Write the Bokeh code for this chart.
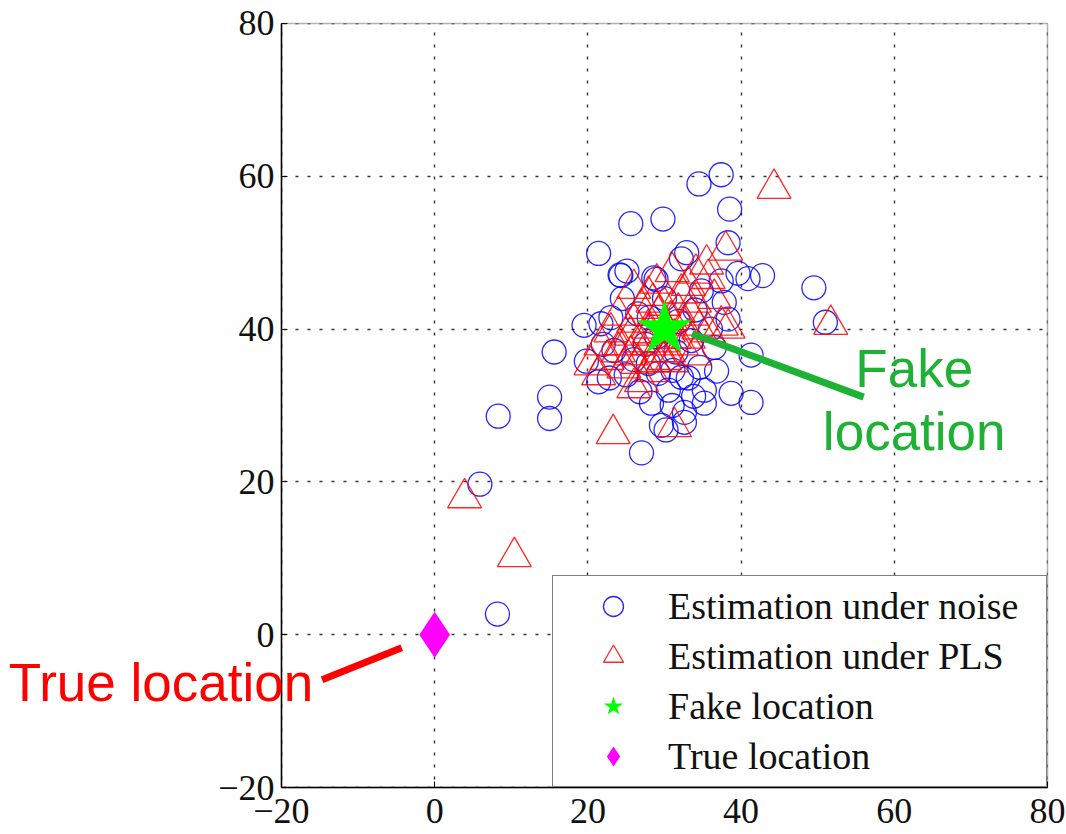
from bokeh.plotting import figure
from bokeh.models import Range1d, FixedTicker, Legend, LegendItem, Label, BoxAnnotation
from bokeh.embed import file_html
from bokeh.resources import INLINE

# ---- data ----
noise_x = [37.4, 34.5, 38.5, 25.6, 29.8, 21.4, 32.9, 38.3, 24.2, 25.1, 39.6, 42.8, 49.5, 51.0,
           19.5, 21.7, 37.8, 28.9, 15.6, 38.3, 15.0, 15.0, 19.8, 21.4, 22.8, 28.3, 29.6, 30.2,
           32.6, 32.6, 35.2, 38.7, 41.3, 27.0, 41.3, 31.1, 33.1, 34.6, 8.3, 5.9, 8.2, 32.2,
           37.4, 40.9, 23.4, 36.5, 35.2, 30.5, 27.9, 29.2, 24.3, 28.6, 32.2, 26.0, 25.0, 27.5,
           31.5, 33.5, 30.0, 26.5, 34.0, 23.0, 29.0, 31.8, 36.0, 22.0, 33.8, 36.8, 26.8, 24.5,
           31.0, 28.0, 34.8]
noise_y = [60.2, 59.0, 55.7, 53.8, 54.4, 49.9, 50.0, 51.3, 47.1, 47.6, 47.3, 47.0, 45.4, 40.9,
           40.5, 40.7, 43.5, 46.5, 37.0, 41.3, 31.1, 28.3, 35.8, 33.1, 33.6, 30.3, 27.4, 26.8,
           29.1, 27.8, 30.3, 31.6, 30.4, 23.8, 36.6, 34.6, 33.6, 35.0, 28.6, 19.7, 2.7, 49.2,
           46.3, 46.6, 37.2, 37.6, 32.0, 32.0, 35.5, 34.2, 47.0, 46.7, 33.7, 36.0, 34.0, 38.0,
           37.0, 38.5, 44.0, 42.0, 42.5, 41.5, 39.0, 41.0, 40.0, 38.0, 31.2, 34.5, 31.8, 44.0,
           30.0, 41.5, 45.0]

pls_x = [44.3, 38.0, 51.7, 23.3, 3.9, 10.4, 31.3,
         34.1, 35.7, 32.2, 27.9, 26.0, 29.9, 24.0, 26.0, 33.5, 37.4, 38.3, 35.7, 21.7, 24.0,
         26.6, 29.2, 32.2, 33.9, 20.4, 21.4, 24.7, 27.0, 26.0, 28.6, 30.9, 24.3, 27.9, 30.5,
         29.2, 31.8, 33.9, 36.5, 33.1, 27.0, 25.6, 23.0, 29.6, 31.3, 33.1, 27.9, 25.6, 30.5,
         28.3, 35.5, 29.0, 31.0, 28.5, 30.0, 32.5, 26.5, 34.5, 22.5, 28.0, 30.8]
pls_y = [58.4, 50.3, 40.6, 26.3, 17.9, 10.2, 27.2,
         47.3, 46.6, 44.7, 44.4, 45.3, 43.1, 41.8, 40.9, 41.8, 40.5, 40.1, 39.6, 37.9, 37.0,
         38.3, 37.0, 37.9, 36.6, 35.3, 34.0, 34.9, 33.1, 32.3, 35.7, 35.7, 37.9, 40.1, 39.6,
         41.8, 42.2, 43.5, 44.0, 45.7, 42.7, 39.2, 39.6, 38.3, 38.8, 38.8, 37.9, 36.6, 37.0,
         34.4, 48.5, 46.0, 47.5, 43.5, 36.0, 40.5, 35.5, 40.0, 36.0, 39.5, 41.2]

fake_x = [30]
fake_y = [40]
true_x = [0]
true_y = [0]

ticks = [-20, 0, 20, 40, 60, 80]
axis_lo, axis_hi = -20, 80
legend_labels = ["Estimation under noise", "Estimation under PLS", "Fake location", "True location"]

# annotation pointer lines (data coords)
fake_line_x = [33.6, 56.0]
fake_line_y = [39.4, 31.1]
true_line_x = [-14.7, -4.3]
true_line_y = [-5.9, -1.7]

SERIF = "Liberation Serif"
SANS = "Liberation Sans"

# The frame covers the whole canvas (so the outside annotation is not clipped);
# the axes are fixed at -20 and the plot box is drawn as an annotation.
p = figure(frame_width=1066, frame_height=834,
           min_border_left=0, min_border_right=0, min_border_top=0, min_border_bottom=0,
           x_range=Range1d(-56.68, 82.48), y_range=Range1d(-26.15, 83.01),
           output_backend="svg", toolbar_location=None)

p.outline_line_color = None
p.background_fill_color = "white"
p.border_fill_color = "white"

for g in (p.xgrid[0], p.ygrid[0]):
    g.ticker = FixedTicker(ticks=ticks)
    g.grid_line_color = "black"
    g.grid_line_alpha = 0.8
    g.grid_line_width = 1.4
    g.grid_line_dash = "3 9"
    g.grid_line_dash_offset = 5

# white masks outside the plot box (hide grid lines there)
FAR = 1000
p.add_layout(BoxAnnotation(left=-FAR, right=axis_lo, bottom=-FAR, top=FAR, fill_color="white",
                           fill_alpha=1.0, line_color=None, level="underlay"))
p.add_layout(BoxAnnotation(left=axis_hi, right=FAR, bottom=-FAR, top=FAR, fill_color="white",
                           fill_alpha=1.0, line_color=None, level="underlay"))
p.add_layout(BoxAnnotation(left=-FAR, right=FAR, bottom=-FAR, top=axis_lo, fill_color="white",
                           fill_alpha=1.0, line_color=None, level="underlay"))
p.add_layout(BoxAnnotation(left=-FAR, right=FAR, bottom=axis_hi, top=FAR, fill_color="white",
                           fill_alpha=1.0, line_color=None, level="underlay"))

for ax in (p.xaxis[0], p.yaxis[0]):
    ax.ticker = FixedTicker(ticks=ticks)
    ax.fixed_location = axis_lo
    ax.bounds = (axis_lo, axis_hi)
    ax.major_label_overrides = {-20: "\u221220"}
    ax.major_label_text_font = SERIF
    ax.major_label_text_font_size = "36px"
    ax.major_label_text_color = "#111111"
    ax.axis_line_color = "black"
    ax.axis_line_width = 1.5
    ax.major_tick_in = 6
    ax.major_tick_out = 0
    ax.minor_tick_line_color = None
    ax.major_tick_line_color = "black"
p.xaxis.major_label_standoff = 11
p.yaxis.major_label_standoff = 7

r_noise = p.scatter(noise_x, noise_y, marker="circle", size=24, fill_color=None,
                    line_color="#0000ff", line_width=1.3, line_alpha=0.85)
r_pls = p.scatter(pls_x, pls_y, marker="triangle", size=34, fill_color=None,
                  line_color="#ff0000", line_width=1.3, line_alpha=0.85)

p.line(fake_line_x, fake_line_y, line_color="#1db233", line_width=7)
p.line(true_line_x, true_line_y, line_color="#ff0000", line_width=7)

r_fake = p.scatter(fake_x, fake_y, marker="star", size=58, fill_color="#00ff00",
                   line_color="#00ff00", line_width=0)
r_true = p.scatter(true_x, true_y, marker="diamond", size=46, fill_color="#ff00ff",
                   line_color="#ff00ff", line_width=0)

# plot box
p.add_layout(BoxAnnotation(left=axis_lo, right=axis_hi, bottom=axis_lo, top=axis_hi,
                           fill_alpha=0, line_color="black", line_width=1.5))

p.add_layout(Label(x=62.6, y=34.8, text="Fake", text_font=SANS, text_font_size="53px",
                   text_color="#1db233", text_align="center", text_baseline="alphabetic"))
p.add_layout(Label(x=62.6, y=26.6, text="location", text_font=SANS, text_font_size="53px",
                   text_color="#1db233", text_align="center", text_baseline="alphabetic"))
p.add_layout(Label(x=-55.6, y=-6.3, text="True location", text_font=SANS,
                   text_font_size="53px", text_color="#ff0000", text_align="left",
                   text_baseline="alphabetic"))

legend = Legend(items=[LegendItem(label=legend_labels[0], renderers=[r_noise]),
                       LegendItem(label=legend_labels[1], renderers=[r_pls]),
                       LegendItem(label=legend_labels[2], renderers=[r_fake]),
                       LegendItem(label=legend_labels[3], renderers=[r_true])],
                location=(552, 47), orientation="vertical",
                glyph_width=110, glyph_height=50, spacing=0, padding=5, margin=0,
                label_standoff=0, label_width=373,
                label_text_font=SERIF, label_text_font_size="38px", label_text_color="#111111",
                label_text_baseline="middle",
                border_line_color="black", border_line_width=1.5,
                background_fill_color="white", background_fill_alpha=1.0)
p.add_layout(legend, "center")

open("out.html", "w").write(file_html(p, INLINE))
